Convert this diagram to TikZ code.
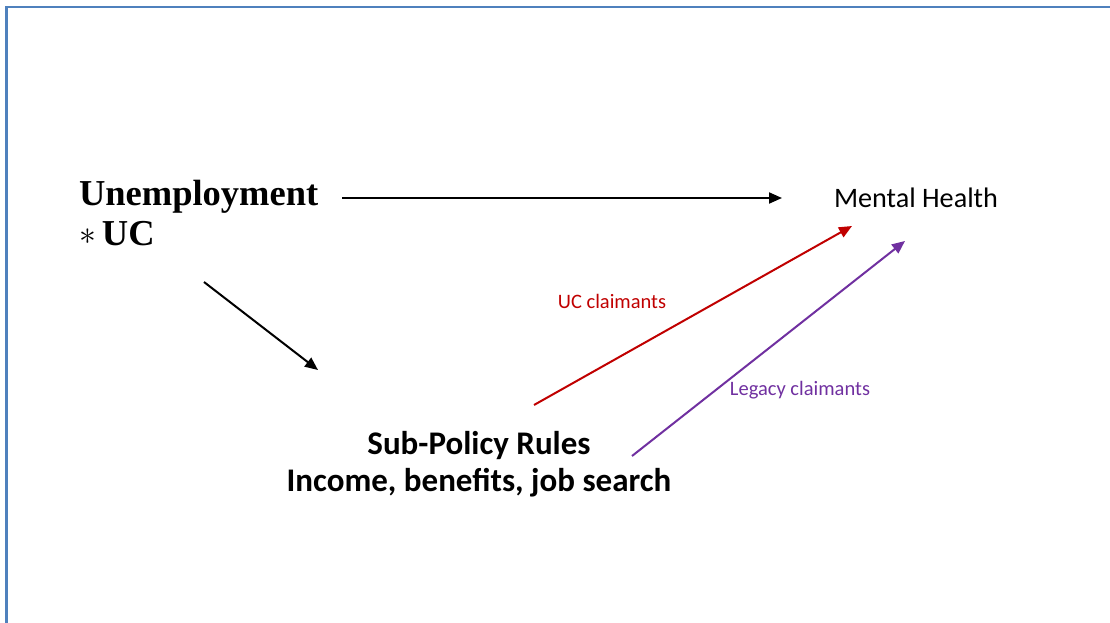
\documentclass[tikz,border=0pt]{standalone}
\usepackage{fontspec}
\setmainfont{Carlito}
\newfontfamily\cambriaish{Liberation Serif}
\usetikzlibrary{arrows.meta}
\definecolor{framecol}{RGB}{79,129,189}
\definecolor{ucred}{RGB}{192,0,0}
\definecolor{legpurple}{RGB}{112,48,160}
\tikzset{
  conn/.style={line width=2pt,-{Triangle[length=13pt,width=11pt]}},
  lbl/.style={inner sep=0pt,outer sep=0pt},
}
\begin{document}
\begin{tikzpicture}[x=1pt,y=-1pt]
\useasboundingbox (0,0) rectangle (1110,623);
\draw[framecol,line width=2.2pt] (6.5,7) rectangle (1125,640);
% texts
\node[lbl,anchor=base west,align=left,font=\cambriaish\bfseries\fontsize{36.5}{40}\selectfont] (unemp) at (79,245) {Unemployment\\\raisebox{1pt}{\scalebox{1.35}{$\ast$}}\hspace{-3pt} UC};
\node[lbl,anchor=base west,font=\fontsize{28.2}{32}\selectfont] (mh) at (834,207) {Mental Health};
\node[lbl,anchor=base,align=center,font=\bfseries\fontsize{33}{37}\selectfont] (spr) at (479,491) {Sub-Policy Rules\\Income, benefits, job search};
\node[lbl,anchor=base,text=ucred,font=\fontsize{20.5}{24}\selectfont] (ucl) at (612,308) {UC claimants};
\node[lbl,anchor=base,text=legpurple,font=\fontsize{20.5}{24}\selectfont] (legl) at (800,395) {Legacy claimants};
% connector end points
\coordinate (hS) at (342,198);
\coordinate (hE) at (782,198);
\coordinate (dS) at (204,282);
\coordinate (dE) at (318,370);
\coordinate (rS) at (534,405);
\coordinate (rE) at (852,226);
\coordinate (pS) at (632,456);
\coordinate (pE) at (905,241);
\draw[conn] (hS) -- (hE);
\draw[conn] (dS) -- (dE);
\draw[conn,ucred] (rS) -- (rE);
\draw[conn,legpurple] (pS) -- (pE);
\end{tikzpicture}
\end{document}
